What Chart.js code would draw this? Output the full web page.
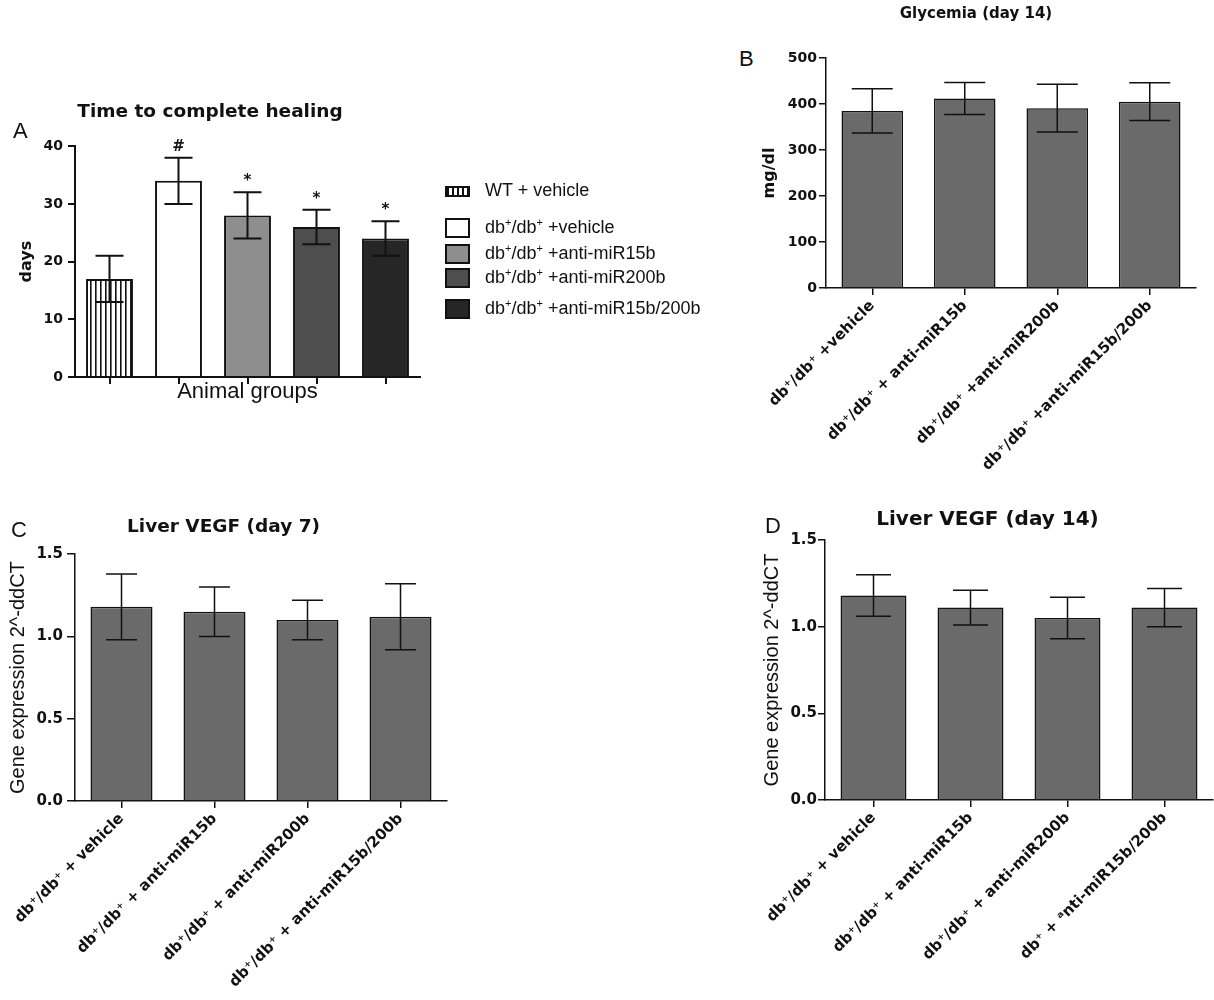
<!DOCTYPE html>
<html>
<head>
<meta charset="utf-8">
<script src="https://cdn.jsdelivr.net/npm/chart.js@4.4.1/dist/chart.umd.min.js"></script>
<style>
  body { margin: 0; background: #fff; width: 1214px; height: 1000px; position: relative; overflow: hidden; font-family: "Liberation Sans", Arial, sans-serif; color: #111; }
  canvas { position: absolute; }
  .letter { position: absolute; font-size: 22px; line-height: 22px; }
  .legend-item { position: absolute; left: 445px; font-size: 18px; line-height: 20px; white-space: nowrap; }
  .swatch { display: inline-block; width: 25px; height: 20px; box-sizing: border-box; border: 2px solid #111; vertical-align: middle; margin-right: 15px; }
  .legend-item sup { font-size: 11px; }
</style>
</head>
<body>
<canvas id="chartA" width="470" height="330" style="left:0; top:90px"></canvas>
<canvas id="chartB" width="458" height="490" style="left:756px; top:0"></canvas>
<canvas id="chartC" width="458" height="510" style="left:0; top:490px"></canvas>
<canvas id="chartD" width="452" height="510" style="left:762px; top:490px"></canvas>

<div class="letter" style="left:13px; top:120px">A</div>
<div class="letter" style="left:739px; top:48px">B</div>
<div class="letter" style="left:11px; top:519px">C</div>
<div class="letter" style="left:765px; top:515px">D</div>
<div id="legendA"></div>

<script>
// Panel A: time to complete healing
const groupsA = ['WT + vehicle', 'db<sup>+</sup>/db<sup>+</sup> +vehicle', 'db<sup>+</sup>/db<sup>+</sup> +anti-miR15b',
  'db<sup>+</sup>/db<sup>+</sup> +anti-miR200b', 'db<sup>+</sup>/db<sup>+</sup> +anti-miR15b/200b']
const healingDays = [17, 34, 28, 26, 24]
const healingErr = [4, 4, 4, 3, 3]
const healingMarks = ['', '#', '*', '*', '*']
const ticksA = [0, 10, 20, 30, 40]

// Panel B: glycemia day 14
const labelsB = ['db⁺/db⁺ +vehicle', 'db⁺/db⁺ + anti-miR15b', 'db⁺/db⁺ +anti-miR200b', 'db⁺/db⁺ +anti-miR15b/200b']
const glycemia = [385, 412, 391, 405]
const glycemiaErr = [48, 35, 52, 41]
const ticksB = [0, 100, 200, 300, 400, 500]

// Panel C: liver VEGF day 7
const labelsC = ['db⁺/db⁺ + vehicle', 'db⁺/db⁺ + anti-miR15b', 'db⁺/db⁺ + anti-miR200b', 'db⁺/db⁺ + anti-miR15b/200b']
const vegfDay7 = [1.18, 1.15, 1.10, 1.12]
const vegfDay7Err = [0.20, 0.15, 0.12, 0.20]

// Panel D: liver VEGF day 14
const labelsD = ['db⁺/db⁺ + vehicle', 'db⁺/db⁺ + anti-miR15b', 'db⁺/db⁺ + anti-miR200b', 'db⁺ + ᵃnti-miR15b/200b']
const vegfDay14 = [1.18, 1.11, 1.05, 1.11]
const vegfDay14Err = [0.12, 0.10, 0.12, 0.11]
const ticksVegf = [0, 0.5, 1.0, 1.5]

const INK = '#111'
const GREY = '#6a6a6a'

function bold(size, lineHeight) {
  return { family: '"DejaVu Sans", sans-serif', size: size, weight: 'bold', lineHeight: lineHeight || 1.2 }
}
function plain(size, lineHeight) {
  return { family: '"Liberation Sans", Arial, sans-serif', size: size, weight: 'normal', lineHeight: lineHeight || 1.2 }
}

function stripes() {
  const c = document.createElement('canvas')
  c.width = 5
  c.height = 10
  const g = c.getContext('2d')
  g.fillStyle = '#fff'
  g.fillRect(0, 0, 5, 10)
  g.fillStyle = INK
  g.fillRect(0, 0, 1.6, 10)
  return g.createPattern(c, 'repeat')
}

const errorBars = {
  id: 'errorBars',
  afterDatasetsDraw(chart, args, opts) {
    const ctx = chart.ctx
    const y = chart.scales.y
    const values = chart.data.datasets[0].data
    ctx.save()
    ctx.strokeStyle = INK
    ctx.fillStyle = INK
    ctx.lineWidth = opts.lineWidth
    chart.getDatasetMeta(0).data.forEach((bar, i) => {
      const hi = y.getPixelForValue(values[i] + opts.errors[i])
      const lo = y.getPixelForValue(values[i] - opts.errors[i])
      const half = opts.cap / 2
      ctx.beginPath()
      ctx.moveTo(bar.x, hi); ctx.lineTo(bar.x, lo)
      ctx.moveTo(bar.x - half, hi); ctx.lineTo(bar.x + half, hi)
      ctx.moveTo(bar.x - half, lo); ctx.lineTo(bar.x + half, lo)
      ctx.stroke()
      if (opts.marks && opts.marks[i]) {
        ctx.font = 'bold 15px "DejaVu Sans"'
        ctx.textAlign = 'center'
        ctx.textBaseline = 'middle'
        ctx.fillText(opts.marks[i], bar.x, hi - 11)
      }
    })
    ctx.restore()
  }
}
Chart.register(errorBars)

function makeBarChart(id, o) {
  return new Chart(document.getElementById(id), {
    type: 'bar',
    data: {
      labels: o.labels,
      datasets: [{
        data: o.values,
        backgroundColor: o.colors,
        borderColor: INK,
        borderWidth: o.line,
        barPercentage: o.barPct,
        categoryPercentage: 1
      }]
    },
    options: {
      responsive: false,
      animation: false,
      layout: { padding: { left: 0, top: 0, bottom: 0, right: o.padRight } },
      plugins: {
        legend: { display: false },
        tooltip: { enabled: false },
        title: { display: true, text: o.title, color: INK, font: o.titleFont, padding: o.titlePad },
        errorBars: { errors: o.errors, cap: o.cap, lineWidth: o.line, marks: o.marks }
      },
      scales: {
        x: {
          offset: true,
          border: { display: true, color: INK, width: o.line },
          grid: { display: true, offset: false, drawOnChartArea: false, drawTicks: true, tickLength: 7, color: INK, lineWidth: o.line },
          ticks: o.xTicks,
          title: o.xTitle || { display: false },
          afterFit: s => { s.height = o.xHeight; s.paddingLeft = 0; s.paddingRight = 0 }
        },
        y: {
          min: o.ticks[0],
          max: o.ticks[o.ticks.length - 1],
          border: { display: true, color: INK, width: o.line },
          grid: { display: true, drawOnChartArea: false, drawTicks: true, tickLength: o.yTick, color: INK, lineWidth: o.line },
          afterBuildTicks: s => { s.ticks = o.ticks.map(v => ({ value: v })) },
          ticks: { color: INK, font: o.yTickFont, padding: o.yTickPad, callback: o.yFormat },
          title: { display: true, text: o.yTitle, color: INK, font: o.yTitleFont, padding: { top: o.yTitlePad, bottom: 0 } },
          afterFit: s => { s.width = o.yWidth }
        }
      }
    }
  })
}

const rotated = { color: INK, font: bold(15), autoSkip: false, minRotation: 45, maxRotation: 45, padding: 2 }
const oneDecimal = v => v.toFixed(1)

makeBarChart('chartA', {
  labels: ['WT + vehicle', 'db+/db+ +vehicle', 'db+/db+ +anti-miR15b', 'db+/db+ +anti-miR200b', 'db+/db+ +anti-miR15b/200b'],
  values: healingDays, errors: healingErr, marks: healingMarks, ticks: ticksA,
  colors: [stripes(), '#ffffff', '#8e8e8e', '#4e4e4e', '#262626'],
  line: 2, barPct: 0.68, cap: 28, padRight: 50,
  title: 'Time to complete healing', titleFont: bold(18.5), titlePad: { top: 11, bottom: 23 },
  xTicks: { display: false },
  xTitle: { display: true, text: 'Animal groups', color: INK, font: plain(22), padding: { top: 0, bottom: 15 } },
  xHeight: 43,
  yTitle: 'days', yTitleFont: bold(16, 1), yTitlePad: 19, yTickFont: bold(14), yTickPad: 5, yTick: 7, yWidth: 75
})

makeBarChart('chartB', {
  labels: labelsB, values: glycemia, errors: glycemiaErr, ticks: ticksB,
  colors: GREY, line: 1.5, barPct: 0.665, cap: 41, padRight: 18,
  title: 'Glycemia (day 14)', titleFont: bold(15), titlePad: { top: 5, bottom: 35 },
  xTicks: rotated, xHeight: 202,
  yTitle: 'mg/dl', yTitleFont: bold(16, 1), yTitlePad: 6, yTickFont: bold(14), yTickPad: 2, yTick: 7, yWidth: 70
})

makeBarChart('chartC', {
  labels: labelsC, values: vegfDay7, errors: vegfDay7Err, ticks: ticksVegf,
  colors: GREY, line: 1.5, barPct: 0.667, cap: 31, padRight: 11,
  title: 'Liver VEGF (day 7)', titleFont: bold(18.5), titlePad: { top: 26, bottom: 16 },
  xTicks: rotated, xHeight: 199,
  yTitle: 'Gene expression 2^-ddCT', yTitleFont: plain(20, 1), yTitlePad: 8,
  yTickFont: bold(15), yTickPad: 4, yTick: 8, yWidth: 75, yFormat: oneDecimal
})

makeBarChart('chartD', {
  labels: labelsD, values: vegfDay14, errors: vegfDay14Err, ticks: ticksVegf,
  colors: GREY, line: 1.5, barPct: 0.68, cap: 35, padRight: 1,
  title: 'Liver VEGF (day 14)', titleFont: bold(20), titlePad: { top: 18, bottom: 8 },
  xTicks: rotated, xHeight: 200,
  yTitle: 'Gene expression 2^-ddCT', yTitleFont: plain(20, 1), yTitlePad: 0,
  yTickFont: bold(15), yTickPad: 1, yTick: 7, yWidth: 63, yFormat: oneDecimal
})

// legend for panel A, built from the group names
const legendFills = ['repeating-linear-gradient(90deg, #111 0 2px, #fff 2px 5px)', '#ffffff', '#8e8e8e', '#4e4e4e', '#262626']
const legendTops = [180, 212, 238, 262, 293]
const legend = document.getElementById('legendA')
groupsA.forEach((name, i) => {
  const item = document.createElement('div')
  item.className = 'legend-item'
  item.style.top = legendTops[i] + 'px'
  const h = i === 0 ? 11 : 20
  item.innerHTML = '<span class="swatch" style="height:' + h + 'px; background:' + legendFills[i] + '"></span>' + name
  legend.appendChild(item)
})
</script>
</body>
</html>
